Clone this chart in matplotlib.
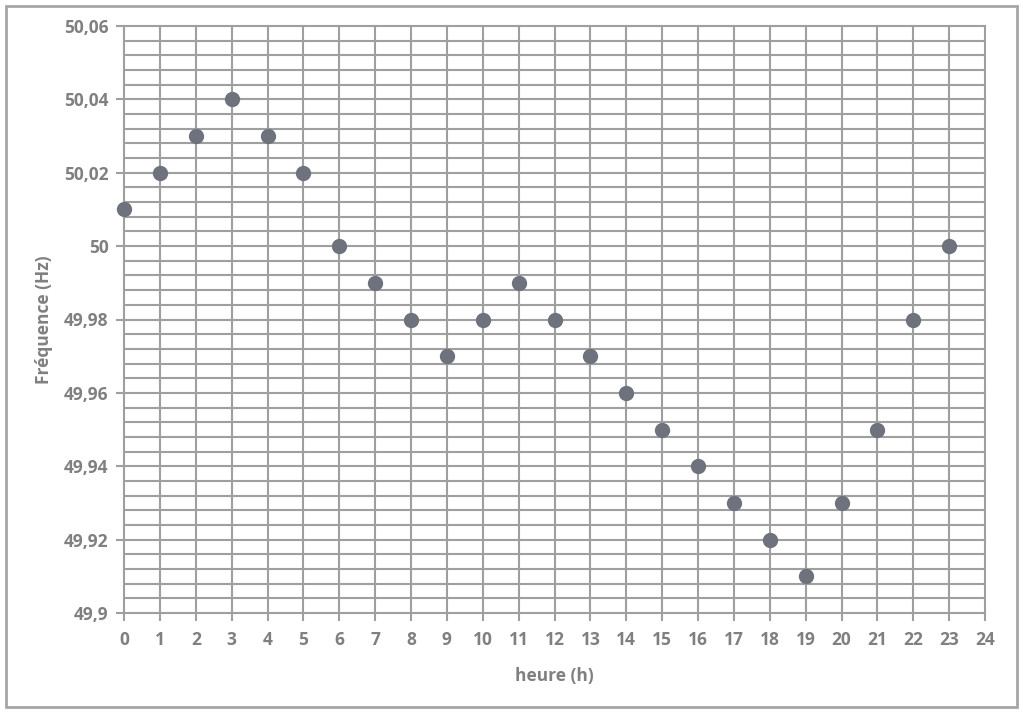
import numpy as np
import matplotlib.pyplot as plt
from matplotlib.patches import Rectangle
from matplotlib.ticker import MultipleLocator, FuncFormatter

heures = list(range(24))
frequence = [50.01, 50.02, 50.03, 50.04, 50.03, 50.02, 50.00, 49.99, 49.98, 49.97,
             49.98, 49.99, 49.98, 49.97, 49.96, 49.95, 49.94, 49.93, 49.92, 49.91,
             49.93, 49.95, 49.98, 50.00]

grid_col = '#9f9f9f'
txt_col = '#808080'
dot_col = '#6e727d'

plt.rcParams['font.family'] = ['Open Sans', 'DejaVu Sans']

fig = plt.figure(figsize=(10.23, 7.16), dpi=100)
fig.patches.append(Rectangle((6/1023, 9/716), 1011/1023, 701/716, transform=fig.transFigure,
                             fill=False, edgecolor='#a6a6a6', linewidth=2))
ax = fig.add_axes([124/1023, 1 - 613/716, 861/1023, 587/716])

ax.scatter(heures, frequence, s=100, color=dot_col, zorder=3, clip_on=False)

ax.set_xlim(0, 24)
ax.set_ylim(49.9, 50.06)
ax.xaxis.set_major_locator(MultipleLocator(1))
ax.yaxis.set_major_locator(MultipleLocator(0.02))
ax.yaxis.set_minor_locator(MultipleLocator(0.004))

def fmt(v, pos):
    s = ('%.2f' % v).rstrip('0').rstrip('.')
    return s.replace('.', ',')

ax.yaxis.set_major_formatter(FuncFormatter(fmt))

ax.grid(True, which='major', color=grid_col, linewidth=1.5)
ax.grid(True, which='minor', axis='y', color=grid_col, linewidth=1.5)
for sp in ax.spines.values():
    sp.set_visible(False)
for gl in ax.get_xgridlines() + ax.get_ygridlines():
    gl.set_clip_on(False)

ax.tick_params(axis='both', which='major', colors=grid_col, width=1.5, length=6,
               labelcolor=txt_col, labelsize=12.5)
ax.tick_params(axis='y', which='minor', length=0)
ax.tick_params(axis='x', pad=7)
ax.tick_params(axis='y', pad=5)
for lab in ax.get_xticklabels() + ax.get_yticklabels():
    lab.set_fontweight('bold')

ax.set_xlabel('heure (h)', color=txt_col, fontsize=12.5, fontweight='bold', labelpad=13)
ax.set_ylabel('Fréquence (Hz)', color=txt_col, fontsize=12.5, fontweight='bold', labelpad=8)

fig.savefig('out.png', dpi=100)
